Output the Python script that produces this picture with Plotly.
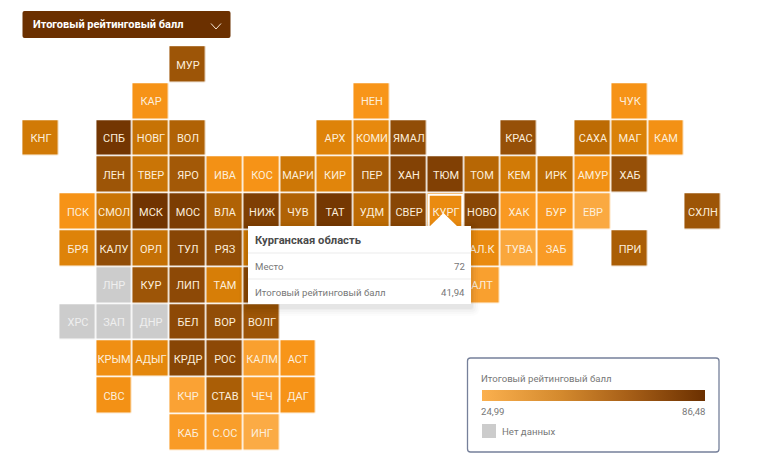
import plotly.graph_objects as go

# --- Data ---
row0 = {4: ("МУР", 66)}
row1 = {3: ("КАР", 38), 9: ("НЕН", 37), 16: ("ЧУК", 38)}
row2 = {0: ("КНГ", 50), 2: ("СПБ", 83), 3: ("НОВГ", 53), 4: ("ВОЛ", 60), 8: ("АРХ", 46), 9: ("КОМИ", 43),
        10: ("ЯМАЛ", 70), 13: ("КРАС", 68), 15: ("САХА", 56), 16: ("МАГ", 47), 17: ("КАМ", 39)}
row3 = {2: ("ЛЕН", 66), 3: ("ТВЕР", 52), 4: ("ЯРО", 64), 5: ("ИВА", 39), 6: ("КОС", 38), 7: ("МАРИ", 51),
        8: ("КИР", 45), 9: ("ПЕР", 64), 10: ("ХАН", 76), 11: ("ТЮМ", 77), 12: ("ТОМ", 58), 13: ("КЕМ", 50),
        14: ("ИРК", 56), 15: ("АМУР", 40), 16: ("ХАБ", 68)}
row4 = {1: ("ПСК", 38), 2: ("СМОЛ", 52), 3: ("МСК", 84), 4: ("МОС", 79), 5: ("ВЛА", 60), 6: ("НИЖ", 78),
        7: ("ЧУВ", 60), 8: ("ТАТ", 82), 9: ("УДМ", 56), 10: ("СВЕР", 74), 11: ("КУРГ", 41.94), 12: ("НОВО", 74),
        13: ("ХАК", 35), 14: ("БУР", 36), 15: ("ЕВР", 28), 18: ("СХЛН", 66)}
row5 = {1: ("БРЯ", 46), 2: ("КАЛУ", 70), 3: ("ОРЛ", 54), 4: ("ТУЛ", 74), 5: ("РЯЗ", 70), 6: ("", 50),
        12: ("АЛ.К", 42), 13: ("ТУВА", 29), 14: ("ЗАБ", 34), 16: ("ПРИ", 62)}
row6 = {3: ("КУР", 66), 4: ("ЛИП", 72), 5: ("ТАМ", 48), 6: ("", 72), 12: ("АЛТ", 32)}
row7 = {4: ("БЕЛ", 72), 5: ("ВОР", 70), 6: ("ВОЛГ", 66)}
row8 = {2: ("КРЫМ", 40), 3: ("АДЫГ", 44), 4: ("КРДР", 74), 5: ("РОС", 72), 6: ("КАЛМ", 32), 7: ("АСТ", 37)}
row9 = {2: ("СВС", 39), 4: ("КЧР", 31), 5: ("СТАВ", 62), 6: ("ЧЕЧ", 34), 7: ("ДАГ", 38)}
row10 = {4: ("КАБ", 34), 5: ("С.ОС", 33), 6: ("ИНГ", 27)}
rated_rows = [row0, row1, row2, row3, row4, row5, row6, row7, row8, row9, row10]

no_data = {6: {2: "ЛНР"}, 7: {1: "ХРС", 2: "ЗАП", 3: "ДНР"}}

value_min = 24.99
value_max = 86.48
legend_title = "Итоговый рейтинговый балл"
legend_min_label = "24,99"
legend_max_label = "86,48"
no_data_label = "Нет данных"
selector_label = "Итоговый рейтинговый балл"
tip_title = "Курганская область"
tip_rows = [("Место", "72"), ("Итоговый рейтинговый балл", "41,94")]

# --- Geometry ---
W, H = 760, 465
PITCH = 36.8
CX0, CY0 = 40.8, 64.6
FONT = "Roboto, sans-serif"
n_cols, n_rows = 19, 11
cols = list(range(n_cols))
rows = list(range(n_rows))
colorscale = [[0, "#FBB04E"], [0.2, "#F89418"], [0.35, "#DC8208"], [0.5, "#BE6C04"],
              [0.7, "#965008"], [1, "#6B3000"]]
legend_scale = [[0, "#FBB04E"], [0.35, "#D48A2E"], [0.65, "#A86018"], [1, "#6B3000"]]


def fx(px):
    return px / W


def fy(py):
    return 1 - py / H


def rrect(x0, y0, x1, y1, r=2):
    a, b, c, d = fx(x0), fy(y0), fx(x1), fy(y1)
    rx, ry = r / W, r / H
    return (f"M{a+rx},{b} L{c-rx},{b} Q{c},{b} {c},{b-ry} L{c},{d+ry} Q{c},{d} {c-rx},{d} "
            f"L{a+rx},{d} Q{a},{d} {a},{d+ry} L{a},{b-ry} Q{a},{b} {a+rx},{b} Z")


z = [[row.get(c, (None, None))[1] for c in cols] for row in rated_rows]
labels = [[row.get(c, ("", None))[0] for c in cols] for row in rated_rows]
z_na = [[1 if c in no_data.get(r, {}) else None for c in cols] for r in rows]
labels_na = [[no_data.get(r, {}).get(c, "") for c in cols] for r in rows]

fig = go.Figure()
fig.add_trace(go.Heatmap(
    x=cols, y=rows, z=z, text=labels, texttemplate="%{text}",
    textfont=dict(family=FONT, size=11, color="#FCEEDC"),
    zmin=value_min, zmax=value_max, colorscale=colorscale, xgap=1.6, ygap=1.6, hoverongaps=False,
    hoverinfo="skip", showscale=False,
))
fig.add_trace(go.Heatmap(
    x=cols, y=rows, z=z_na, text=labels_na, texttemplate="%{text}",
    textfont=dict(family=FONT, size=11, color="#EFEFEF"),
    zmin=0, zmax=1, colorscale=[[0, "#CCCCCC"], [1, "#CCCCCC"]], showscale=False,
    xgap=1.6, ygap=1.6, hoverongaps=False, hoverinfo="skip",
))
# legend gradient: its own colour scale, no visible marks
fig.add_trace(go.Scatter(
    x=[None, None], y=[None, None], mode="markers", hoverinfo="skip",
    marker=dict(color=[value_min, value_max], cmin=value_min, cmax=value_max, colorscale=legend_scale,
                showscale=True,
                colorbar=dict(orientation="h", x=fx(482), xanchor="left", xpad=0, y=fy(400.5), yanchor="bottom",
                              ypad=0, len=223 / W, lenmode="fraction", thickness=11, thicknessmode="pixels",
                              outlinewidth=0, showticklabels=False, ticks="")),
))

shapes = []


def shape(path=None, fill=None, line=None, lw=0):
    shapes.append(dict(type="path", xref="paper", yref="paper", path=path, fillcolor=fill or "rgba(0,0,0,0)",
                       line=dict(color=line or "rgba(0,0,0,0)", width=lw), layer="above"))


# selector
shape(rrect(22.5, 11, 230.5, 38), "#6B3000")
shape(f"M{fx(211)},{fy(23.5)} L{fx(216)},{fy(29)} L{fx(221)},{fy(23.5)}", None, "#F5E6D5", 1)
# highlighted cell
shape(rrect(428.7, 194.8, 462.3, 228, 0), None, "#FFFFFF", 2)
# tooltip shadow, card, pointer
for i, a in zip((9, 7, 5, 3, 2), (0.012, 0.016, 0.02, 0.025, 0.03)):
    shape(rrect(248 - i, 226 - i + 3, 471 + i, 304 + i + 3, i), f"rgba(0,0,0,{a})")
shape(rrect(248, 226, 471, 304, 0), "#FFFFFF")
shape(f"M{fx(429)},{fy(227)} L{fx(443.5)},{fy(213)} L{fx(458)},{fy(227)} Z", "#FFFFFF")
for y in (253, 279):
    shape(f"M{fx(248)},{fy(y)} L{fx(471)},{fy(y)}", None, "#EBEBEB", 1)
# legend box
shape(rrect(467.5, 358, 719, 452, 3), "#FFFFFF", "#76809A", 1.3)
shape(rrect(482, 424, 496, 438, 0), "#CCCCCC")


def note(x, y, text, size, color, anchor="left", bold=False):
    shift = -1.2 if anchor == "left" else 1.2
    return dict(xref="paper", yref="paper", x=fx(x + shift), y=fy(y), text=f"<b>{text}</b>" if bold else text,
                showarrow=False, xanchor=anchor, yanchor="middle", borderpad=0, captureevents=False,
                font=dict(family=FONT, size=size, color=color))


annotations = [
    note(33, 24, selector_label, 11, "#FFFFFF", bold=True),
    note(255, 240, tip_title, 11.2, "#4A4A4A", bold=True),
    note(255, 266.5, tip_rows[0][0], 9.6, "#777777"),
    note(465, 266.5, tip_rows[0][1], 9.6, "#777777", "right"),
    note(255, 292, tip_rows[1][0], 9.6, "#777777"),
    note(465, 292, tip_rows[1][1], 9.6, "#777777", "right"),
    note(481.5, 378, legend_title, 9.6, "#777777"),
    note(481.5, 411.5, legend_min_label, 9.6, "#777777"),
    note(705, 411.5, legend_max_label, 9.6, "#777777", "right"),
    note(502, 431, no_data_label, 9.6, "#777777"),
]

fig.update_layout(
    width=W, height=H, margin=dict(l=0, r=0, t=0, b=0),
    paper_bgcolor="#FFFFFF", plot_bgcolor="#FFFFFF", showlegend=False,
    xaxis=dict(range=[-CX0 / PITCH, (W - CX0) / PITCH], domain=[0, 1], visible=False, fixedrange=True),
    yaxis=dict(range=[(H - CY0) / PITCH, -CY0 / PITCH], domain=[0, 1], visible=False, fixedrange=True),
    shapes=shapes, annotations=annotations,
)
fig.write_html("out.html", config=dict(displayModeBar=False),
               post_script="document.body.style.margin='0';")
